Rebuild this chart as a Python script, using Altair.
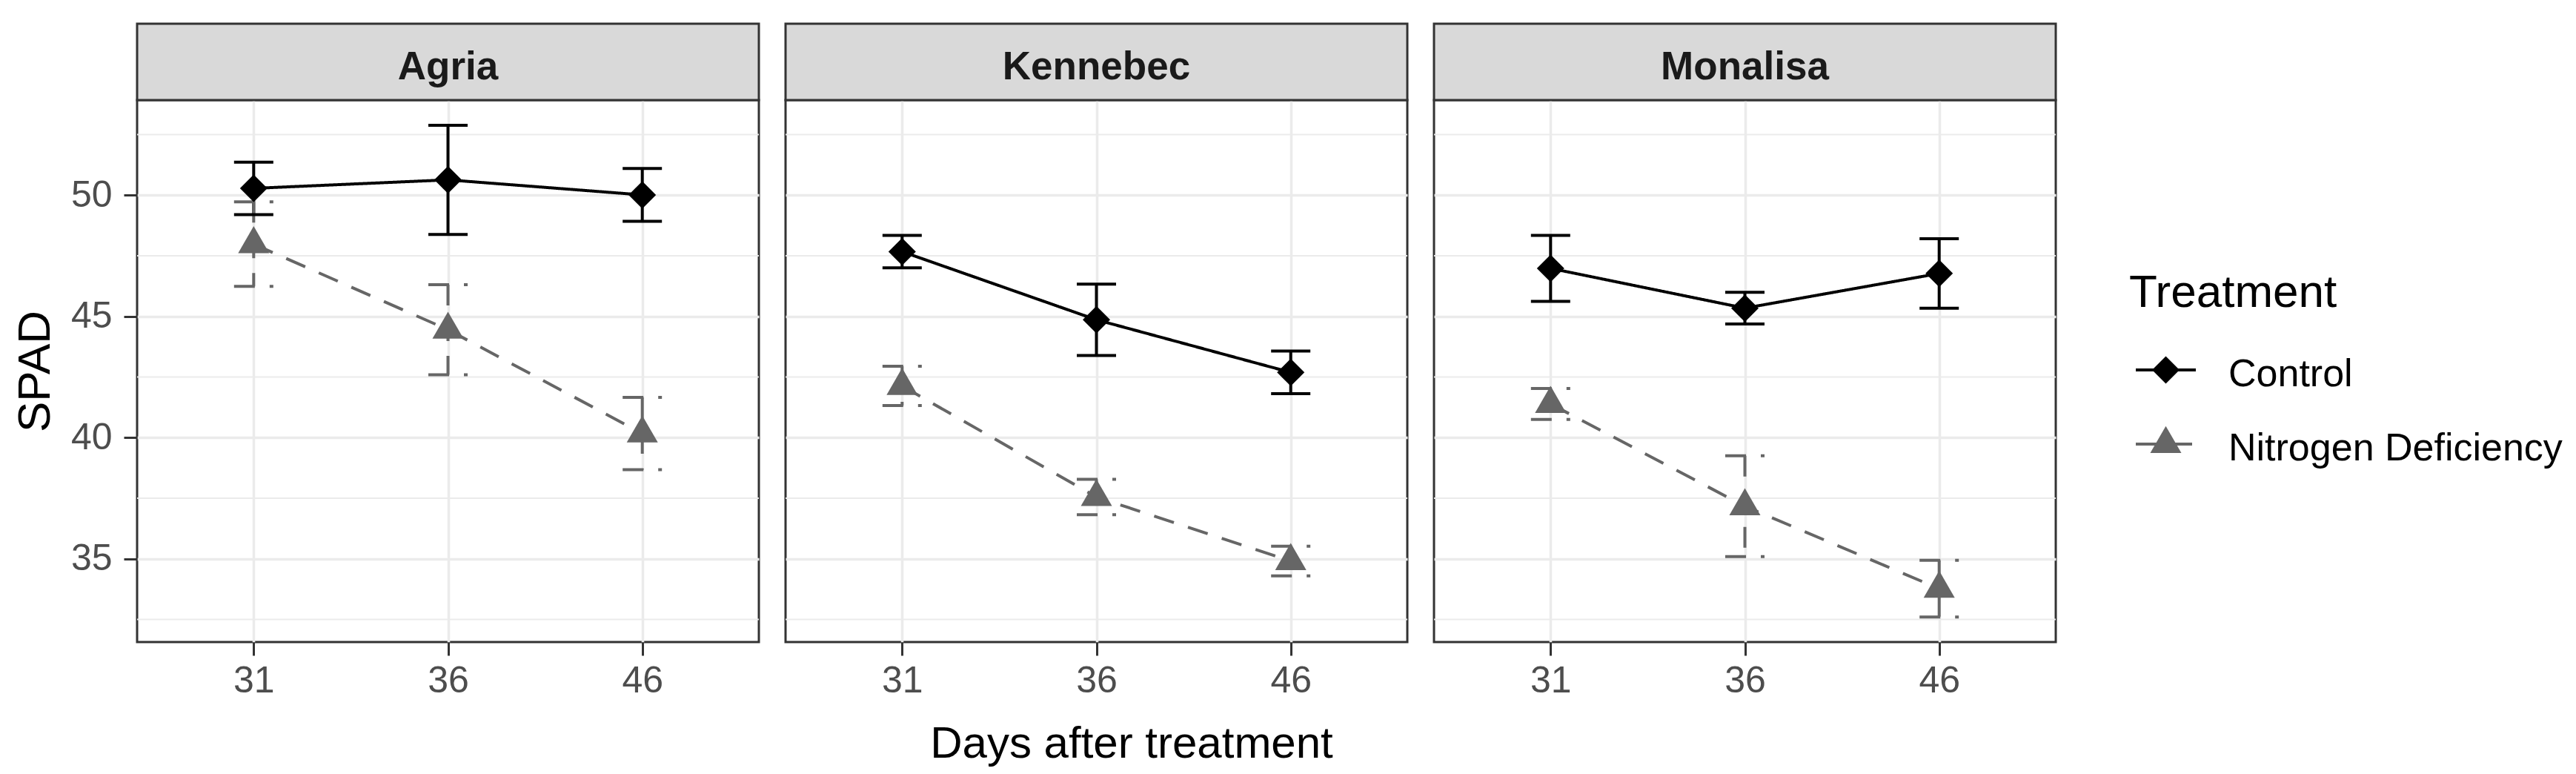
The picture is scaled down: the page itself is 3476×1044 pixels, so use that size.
import altair as alt
import pandas as pd

# ---------------- data ----------------
varieties = ["Agria", "Kennebec", "Monalisa"]
days = ["31", "36", "46"]
treatments = ["Control", "Nitrogen Deficiency"]

agria_control_mean = [50.28, 50.63, 50.01]
agria_control_se = [1.08, 2.25, 1.09]
agria_nd_mean = [47.98, 44.45, 40.17]
agria_nd_se = [1.74, 1.86, 1.49]

kennebec_control_mean = [47.67, 44.86, 42.69]
kennebec_control_se = [0.67, 1.47, 0.88]
kennebec_nd_mean = [42.13, 37.55, 34.91]
kennebec_nd_se = [0.81, 0.73, 0.61]

monalisa_control_mean = [46.98, 45.34, 46.77]
monalisa_control_se = [1.36, 0.65, 1.43]
monalisa_nd_mean = [41.39, 37.17, 33.77]
monalisa_nd_se = [0.64, 2.08, 1.17]

y_major = [35, 40, 45, 50]
y_minor = [32.5, 37.5, 42.5, 47.5, 52.5]
y_domain = [31.57, 53.92]

series = {
    ("Agria", "Control"): (agria_control_mean, agria_control_se),
    ("Agria", "Nitrogen Deficiency"): (agria_nd_mean, agria_nd_se),
    ("Kennebec", "Control"): (kennebec_control_mean, kennebec_control_se),
    ("Kennebec", "Nitrogen Deficiency"): (kennebec_nd_mean, kennebec_nd_se),
    ("Monalisa", "Control"): (monalisa_control_mean, monalisa_control_se),
    ("Monalisa", "Nitrogen Deficiency"): (monalisa_nd_mean, monalisa_nd_se),
}
rows = []
for (v, t), (means, ses) in series.items():
    for d, m, s in zip(days, means, ses):
        rows.append({"variety": v, "treatment": t, "day": d, "mean": m,
                     "lower": m - s, "upper": m + s})
df = pd.DataFrame(rows)

# ---------------- style ----------------
FONT = "Liberation Sans"
W, H = 839, 731
STRIP = 103
CAP = 26.5
LW = 4
COLORS = ["#000000", "#666666"]
DASHES = [[1, 0], [28, 20]]
TRI = "M0,-1.155L1,0.577L-1,0.577Z"
SHAPES = ["diamond", TRI]
SIZES = [1369, 1764]

color_scale = alt.Scale(domain=treatments, range=COLORS)
dash_scale = alt.Scale(domain=treatments, range=DASHES)
shape_scale = alt.Scale(domain=treatments, range=SHAPES)
size_scale = alt.Scale(domain=treatments, range=SIZES)
y_scale = alt.Scale(domain=y_domain, nice=False, zero=False)
x_scale = alt.Scale(type="point", padding=0.6)


def x_axis(show_title):
    kw = dict(labelAngle=0, labelFont=FONT, labelFontSize=50,
              labelColor="#4D4D4D", labelPadding=9, tickSize=18, tickWidth=3,
              tickColor="#333333", domain=False, grid=True,
              gridColor="#EBEBEB", gridWidth=3.5)
    if show_title:
        return alt.Axis(title="Days after treatment", titleFont=FONT,
                        titleFontSize=60, titleFontWeight="normal",
                        titleColor="#000000", titlePadding=31,
                        titleX=W / 2 + 47, **kw)
    return alt.Axis(title=None, **kw)


def y_axis(show):
    if show:
        return alt.Axis(values=y_major, title="SPAD", titleFont=FONT,
                        titleFontSize=62, titleFontWeight="normal",
                        titleColor="#000000", titlePadding=16,
                        labelFont=FONT, labelFontSize=50, labelColor="#4D4D4D",
                        labelPadding=16, tickSize=18, tickWidth=3,
                        tickColor="#333333", domain=False, grid=True,
                        gridColor="#EBEBEB", gridWidth=3.5)
    return alt.Axis(values=y_major, title=None, labels=False, ticks=False,
                    domain=False, grid=True, gridColor="#EBEBEB",
                    gridWidth=3.5)


def legend_layers():
    # hand-drawn legend to the right of the last panel (line through symbol)
    lx = W + 99
    layers = [alt.Chart(pd.DataFrame({"t": ["Treatment"]})).mark_text(
        font=FONT, fontSize=62, color="#000000", align="left",
        baseline="alphabetic").encode(
        text="t:N", x=alt.value(lx), y=alt.value(279))]
    ldf = pd.DataFrame({"treatment": treatments})
    for i, t in enumerate(treatments):
        cy = 364 + 100 * i
        base = alt.Chart(ldf).transform_filter(alt.datum.treatment == t)
        layers.append(base.mark_rule(
            color=COLORS[i], strokeWidth=LW, strokeDash=DASHES[i]).encode(
            x=alt.value(lx + 9), x2=alt.value(lx + 90), y=alt.value(cy)))
        layers.append(base.mark_point(
            filled=True, opacity=1, color=COLORS[i], shape=SHAPES[i],
            size=SIZES[i]).encode(x=alt.value(lx + 49.5), y=alt.value(cy)))
        layers.append(base.mark_text(
            font=FONT, fontSize=52, color="#000000", align="left",
            baseline="alphabetic").encode(
            text="treatment:N", x=alt.value(lx + 134), y=alt.value(cy + 22)))
    return layers


def panel(v, idx):
    d = df[df["variety"] == v]
    base = alt.Chart(d)
    xa = x_axis(idx == 1)
    ya = y_axis(idx == 0)
    X = alt.X("day:O", sort=days, scale=x_scale, axis=xa)

    def Y(field):
        return alt.Y(field, scale=y_scale, axis=ya)

    col = alt.Color("treatment:N", scale=color_scale, legend=None)
    dash = alt.StrokeDash("treatment:N", scale=dash_scale, legend=None)

    minor = alt.Chart(pd.DataFrame({"y": y_minor})).mark_rule(
        color="#EBEBEB", strokeWidth=2).encode(y=Y("y:Q"))

    strip = alt.Chart(pd.DataFrame({"variety": [v]})).mark_rect(
        fill="#D9D9D9", stroke="#333333", strokeWidth=3).encode(
        x=alt.value(0), x2=alt.value(W), y=alt.value(-STRIP), y2=alt.value(0))
    strip_text = alt.Chart(pd.DataFrame({"variety": [v]})).mark_text(
        font=FONT, fontSize=53, fontWeight="bold", color="#1A1A1A",
        baseline="alphabetic", align="center").encode(
        text="variety:N", x=alt.value(W / 2), y=alt.value(-28))

    stems = base.mark_rule(strokeWidth=LW).encode(
        x=X, y=Y("upper:Q"), y2="lower:Q", color=col, strokeDash=dash)
    cap_top = base.mark_rule(strokeWidth=LW, xOffset=-CAP, x2Offset=CAP).encode(
        x=X, x2="day:O", y=Y("upper:Q"), color=col, strokeDash=dash)
    cap_bot = base.mark_rule(strokeWidth=LW, xOffset=-CAP, x2Offset=CAP).encode(
        x=X, x2="day:O", y=Y("lower:Q"), color=col, strokeDash=dash)
    line = base.mark_line(strokeWidth=LW).encode(
        x=X, y=Y("mean:Q"), color=col, strokeDash=dash)
    points = base.mark_point(filled=True, opacity=1).encode(
        x=X, y=Y("mean:Q"), color=col,
        shape=alt.Shape("treatment:N", scale=shape_scale, legend=None),
        size=alt.Size("treatment:N", scale=size_scale, legend=None))

    layers = [minor, strip, strip_text, stems, cap_top, cap_bot, line, points]
    if idx == len(varieties) - 1:
        layers += legend_layers()
    return alt.layer(*layers).properties(width=W, height=H)


chart = alt.hconcat(*[panel(v, i) for i, v in enumerate(varieties)],
                    spacing=30).properties(
    padding={"left": 6, "top": 21, "right": 5, "bottom": 0},
    background="white",
).configure_view(stroke="#333333", strokeWidth=3, fill="white")

chart.save("out.html", embed_options={"renderer": "svg", "actions": False})
